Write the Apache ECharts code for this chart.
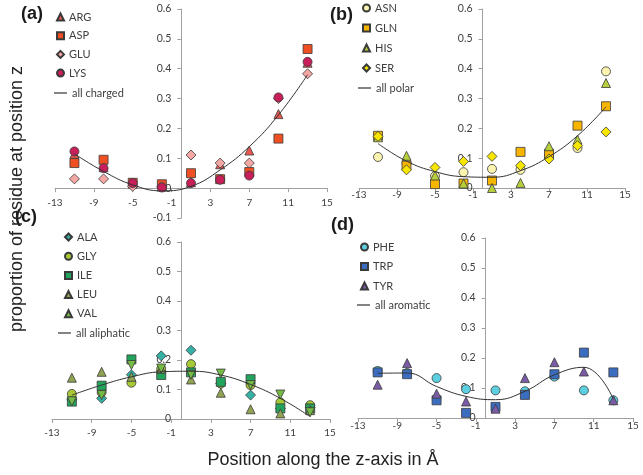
<!DOCTYPE html>
<html>
<head>
<meta charset="utf-8">
<script src="https://cdn.jsdelivr.net/npm/echarts@6/dist/echarts.min.js"></script>
<style>html,body{margin:0;padding:0;background:#fff}#c{width:643px;height:475px}</style>
</head>
<body>
<div id="c"></div>
<script>
// ---- data ----
const positions = [-11, -8, -5, -2, 1, 4, 7, 10, 13];
const xTicks = [-13, -9, -5, -1, 3, 7, 11, 15];

// (a) charged
const ARG = [0.115, 0.07, 0.015, 0.005, 0.02, 0.08, 0.126, 0.248, 0.42];
const ASP = [0.084, 0.095, 0.018, 0.013, 0.05, 0.03, 0.054, 0.166, 0.466];
const GLU = [0.031, 0.031, 0.006, 0.005, 0.111, 0.084, 0.084, 0.30, 0.383];
const LYS = [0.123, 0.067, 0.017, 0.002, 0.017, 0.028, 0.042, 0.304, 0.423];
const allCharged = [0.115, 0.056, 0.011, -0.009, 0.006, 0.061, 0.139, 0.245, 0.38];

// (b) polar
const ASN = [0.104, 0.084, 0.04, 0.053, 0.064, 0.061, 0.108, 0.134, 0.391];
const GLN = [0.175, 0.075, 0.013, 0.015, 0.025, 0.121, 0.115, 0.209, 0.274];
const HIS = [0.17, 0.108, 0.042, 0.015, 0.0, 0.017, 0.14, 0.162, 0.352];
const SER = [0.173, 0.061, 0.069, 0.089, 0.106, 0.075, 0.097, 0.142, 0.188];
const allPolar = [0.149, 0.09, 0.055, 0.038, 0.036, 0.058, 0.105, 0.175, 0.272];

// (c) aliphatic
const ALA = [0.065, 0.07, 0.15, 0.214, 0.233, 0.12, 0.081, 0.036, 0.04];
const GLY = [0.085, 0.09, 0.123, 0.17, 0.186, 0.12, 0.115, 0.056, 0.047];
const ILE = [0.059, 0.113, 0.202, 0.149, 0.158, 0.126, 0.135, 0.036, 0.036];
const LEU = [0.14, 0.16, 0.143, 0.17, 0.134, 0.089, 0.033, 0.019, 0.03];
const VAL = [0.06, 0.081, 0.183, 0.171, 0.15, 0.154, 0.115, 0.083, 0.023];
const allAliphatic = [0.081, 0.115, 0.143, 0.16, 0.162, 0.149, 0.117, 0.07, 0.008];

// (d) aromatic
const PHE = [0.157, 0.15, 0.133, 0.096, 0.092, 0.089, 0.138, 0.092, 0.059];
const TRP = [0.152, 0.146, 0.059, 0.017, 0.037, 0.077, 0.146, 0.218, 0.152];
const TYR = [0.111, 0.183, 0.081, 0.055, 0.031, 0.133, 0.186, 0.155, 0.059];
const allAromatic = [0.149, 0.15, 0.105, 0.072, 0.061, 0.089, 0.144, 0.169, 0.063];

const pairs = arr => positions.map((x, i) => [x, arr[i]]);

const FONT = 'Lato';
const LBL = '#404040';
const AXC = '#a0a0a0';
const X_MIN = -13, X_MAX = 15, Y_MAX = 0.6;

const grids = [
  {left: 55, top: 9, width: 272, height: 209},
  {left: 359, top: 9, width: 266, height: 179},
  {left: 52, top: 242, width: 278, height: 177},
  {left: 358, top: 238, width: 275, height: 180}
];
const xMargins = [10, 2, 9, 3];
const yMins = [-0.1, 0, 0, 0];

// x axis sits where y = 0 (Excel-style crossing), via offset from grid's bottom edge
const xAxis = grids.map((g, i) => ({
  type: 'value', gridIndex: i, min: X_MIN, max: X_MAX,
  position: 'bottom',
  offset: -g.height * (0 - yMins[i]) / (Y_MAX - yMins[i]),
  axisLine: {show: true, onZero: false, lineStyle: {color: AXC, width: 1}},
  axisTick: {show: true, length: 4, customValues: xTicks, lineStyle: {color: AXC}},
  axisLabel: {customValues: xTicks, margin: xMargins[i], fontSize: 10, color: LBL, fontFamily: FONT},
  splitLine: {show: false}
}));
// y axis sits where x = 0, via offset from grid's left edge
const yAxis = grids.map((g, i) => ({
  type: 'value', gridIndex: i, min: yMins[i], max: Y_MAX, interval: 0.1,
  position: 'left',
  offset: -g.width * (0 - X_MIN) / (X_MAX - X_MIN),
  axisLine: {show: true, onZero: false, lineStyle: {color: AXC, width: 1}},
  axisTick: {show: true, length: 4, lineStyle: {color: AXC}},
  axisLabel: {margin: 10, fontSize: 10.5, color: LBL, fontFamily: FONT, showMinLabel: true, showMaxLabel: true,
    formatter: v => (Math.round(v * 10) / 10).toString()},
  splitLine: {show: false}
}));

function sc(name, arr, gi, symbol, color, size, rotate) {
  return {
    name, type: 'scatter', xAxisIndex: gi, yAxisIndex: gi,
    data: pairs(arr), symbol, symbolSize: size, symbolRotate: rotate || 0,
    itemStyle: {color, borderColor: '#3a3a3a', borderWidth: 0.8, opacity: 1}
  };
}
function ln(name, arr, gi) {
  return {
    name, type: 'line', xAxisIndex: gi, yAxisIndex: gi, data: pairs(arr),
    smooth: 0.45, symbol: 'none', showSymbol: false,
    lineStyle: {color: '#333', width: 1}, itemStyle: {color: '#333'}, z: 5
  };
}

const series = [
  sc('ARG', ARG, 0, 'triangle', '#e8584f', 9),
  sc('ASP', ASP, 0, 'rect', '#f04e23', 9),
  sc('GLU', GLU, 0, 'diamond', '#f4a7a3', 10),
  sc('LYS', LYS, 0, 'circle', '#c81e5a', 9),
  ln('all charged', allCharged, 0),
  sc('ASN', ASN, 1, 'circle', '#fbf3b0', 9),
  sc('GLN', GLN, 1, 'rect', '#f7b500', 9),
  sc('HIS', HIS, 1, 'triangle', '#b8cf3c', 9),
  sc('SER', SER, 1, 'diamond', '#f7e600', 10),
  ln('all polar', allPolar, 1),
  sc('ALA', ALA, 2, 'diamond', '#35b0a5', 10),
  sc('GLY', GLY, 2, 'circle', '#a7c935', 9),
  sc('ILE', ILE, 2, 'rect', '#22a45d', 9),
  sc('LEU', LEU, 2, 'triangle', '#8fa353', 9),
  sc('VAL', VAL, 2, 'triangle', '#76bb45', 9, 180),
  ln('all aliphatic', allAliphatic, 2),
  sc('PHE', PHE, 3, 'circle', '#5ccfe0', 9),
  sc('TRP', TRP, 3, 'rect', '#3a6dbf', 9),
  sc('TYR', TYR, 3, 'triangle', '#7b5ba6', 9),
  ln('all aromatic', allAromatic, 3)
];

const legTxt = {fontSize: 11, color: LBL, fontFamily: FONT, lineHeight: 12};
function legM(names, left, top, gap) {
  return {data: names, left, top, orient: 'vertical', itemWidth: 7, itemHeight: 7,
    itemGap: gap, textStyle: legTxt, selectedMode: false, padding: 0};
}
function legL(name, left, top) {
  return {data: [{name, icon: 'rect', itemStyle: {color: '#333'}}], left, top, orient: 'vertical',
    itemWidth: 13, itemHeight: 1.2, textStyle: legTxt, selectedMode: false, padding: 0};
}
const legend = [
  legM(['ARG', 'ASP', 'GLU', 'LYS'], 56, 11, 6.7),
  legL('all charged', 54, 87),
  legM(['ASN', 'GLN', 'HIS', 'SER'], 362, 2, 8),
  legL('all polar', 358, 82),
  legM(['ALA', 'GLY', 'ILE', 'LEU', 'VAL'], 64, 231, 7.2),
  legL('all aliphatic', 58, 327),
  legM(['PHE', 'TRP', 'TYR'], 360, 241, 7.5),
  legL('all aromatic', 357, 299)
];

const panelTxt = (t, x, y) => ({type: 'text', x, y, style: {text: t, font: 'bold 18px "Liberation Sans", Arial', fill: '#1a1a1a', textVerticalAlign: 'middle'}});
const graphic = [
  panelTxt('(a)', 21, 14),
  panelTxt('(b)', 330, 15),
  panelTxt('(c)', 15, 217),
  panelTxt('(d)', 331, 225),
  {type: 'text', x: 323, y: 460, style: {text: 'Position along the z-axis in Å', font: '18px "Liberation Sans", Arial', fill: '#222', textAlign: 'center', textVerticalAlign: 'middle'}},
  {type: 'text', x: 17, y: 199, rotation: Math.PI / 2, style: {text: 'proportion of residue at position z', font: '18px "Liberation Sans", Arial', fill: '#222', textAlign: 'center', textVerticalAlign: 'middle'}}
];

const chart = echarts.init(document.getElementById('c'), null, {renderer: 'canvas'});
chart.setOption({
  animation: false,
  backgroundColor: '#fff',
  grid: grids,
  xAxis, yAxis, series, legend, graphic
});
</script>
</body>
</html>
